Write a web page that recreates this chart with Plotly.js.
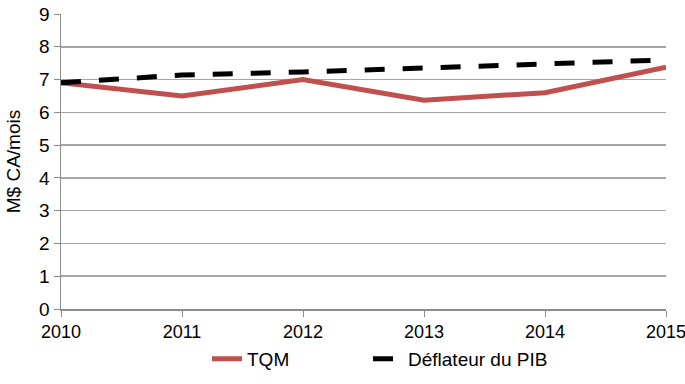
<!DOCTYPE html>
<html><head><meta charset="utf-8">
<script src="https://cdn.plot.ly/plotly-3.0.1.min.js"></script>
<style>html,body{margin:0;padding:0;background:#fff}</style>
</head><body><div id="chart" style="width:685px;height:384px"></div>
<script>
const years = [2010, 2011, 2012, 2013, 2014, 2015];
const tqm = [6.9, 6.5, 7.0, 6.37, 6.6, 7.38];
const deflateur = [6.9, 7.14, 7.23, 7.35, 7.47, 7.6];
const seriesNames = ["TQM", "Déflateur du PIB"];
const FONT = '"Liberation Sans", Arial, sans-serif';
const traces = [
  {x: years, y: tqm, name: seriesNames[0], mode: 'lines', line: {color: '#c0504d', width: 5}, legend: 'legend'},
  {x: years, y: deflateur, name: seriesNames[1], mode: 'lines', line: {color: '#000000', width: 5, dash: '20px,18px'}, legend: 'legend2'}
];
const legBase = {orientation: 'h', xref: 'container', xanchor: 'left', y: 0.115, yref: 'container', yanchor: 'top',
  font: {size: 19}, bgcolor: 'rgba(0,0,0,0)'};
const layout = {
  width: 685, height: 384,
  margin: {l: 61, r: 19, t: 14, b: 75},
  paper_bgcolor: '#fff', plot_bgcolor: '#fff',
  font: {family: FONT, size: 19, color: '#000'},
  showlegend: true,
  legend: Object.assign({}, legBase, {x: 207 / 685}),
  legend2: Object.assign({}, legBase, {x: 368 / 685}),
  xaxis: {range: [2010, 2015], tickvals: years, ticktext: years.map(String), showgrid: false, zeroline: false,
    automargin: false, ticklabeloverflow: 'allow',
    showline: true, linecolor: '#8c8c8c', linewidth: 1.5, ticks: 'outside', ticklen: 6, tickcolor: '#8c8c8c', tickfont: {size: 18}},
  yaxis: {range: [0, 9], dtick: 1, showgrid: true, gridcolor: '#a6a6a6', gridwidth: 1.5, zeroline: false,
    automargin: false,
    showline: true, linecolor: '#8c8c8c', linewidth: 1.5, ticks: 'outside', ticklen: 6, tickcolor: '#8c8c8c', tickfont: {size: 19},
    title: {text: 'M$ CA/mois', font: {size: 19}, standoff: 13}}
};
Plotly.newPlot('chart', traces, layout, {displayModeBar: false, staticPlot: true});
</script></body></html>
